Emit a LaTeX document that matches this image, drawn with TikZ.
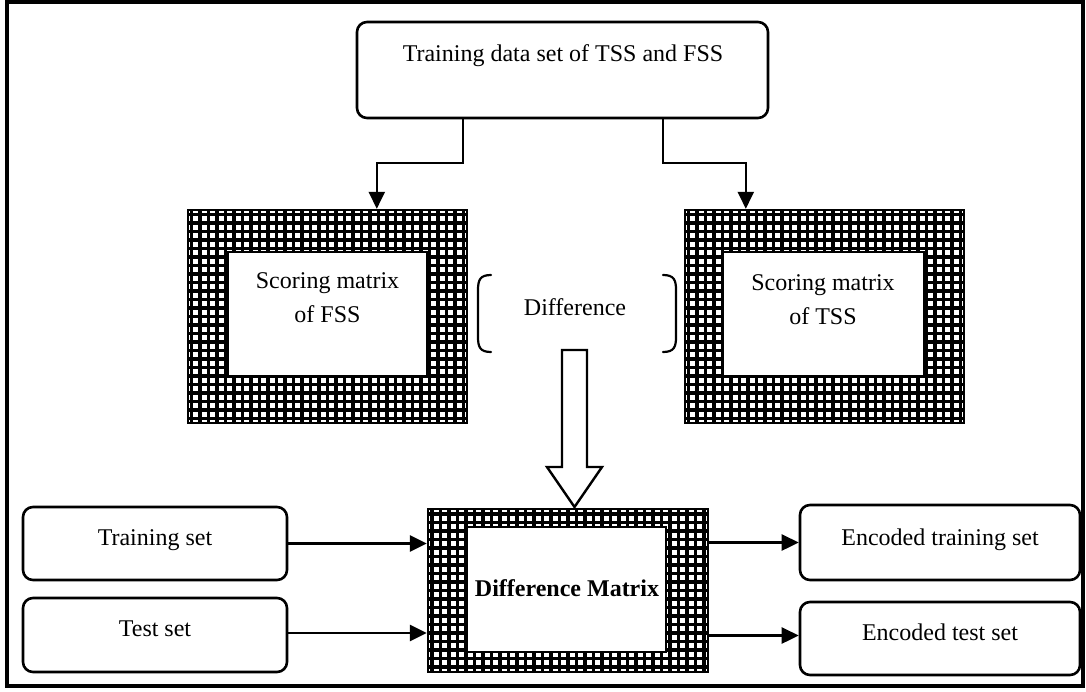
\documentclass[tikz,border=0pt]{standalone}
\usepackage{fontspec}
\setmainfont{Liberation Serif}
\usetikzlibrary{arrows.meta,calc}
\begin{document}
\begin{tikzpicture}[x=1pt,y=-1pt,
  rbox/.style={draw, line width=2.6pt, rounded corners=10pt, inner sep=0pt},
  lbl/.style={font=\fontsize{24}{34}\selectfont, align=center, inner sep=0pt},
  gridmat/.style={draw, line width=2.4pt, inner sep=0pt,
    path picture={\draw[line width=3.7pt]
      (path picture bounding box.south west) grid[step=8.5pt]
      (path picture bounding box.north east);}},
  innerbox/.style={draw, fill=white, line width=2.4pt, inner sep=0pt},
  arr/.style={line width=2.6pt, -{Triangle[length=17pt,width=16pt]}},
  brk/.style={line width=2.2pt, line cap=round},
  hollow/.style={draw, fill=white, line width=2.4pt, line join=miter}
]
\useasboundingbox (0,0) rectangle (1086,691);
\draw[line width=3.2pt] (7,2) rectangle (1083,686);

% top box
\node[rbox, minimum width=411pt, minimum height=96pt] (top) at (562.5,70) {};
\node[lbl] (toptxt) at (563,56) {Training data set of TSS and FSS};

% scoring matrices
\node[gridmat, minimum width=279pt, minimum height=213pt] (fssO) at (327.5,316.5) {};
\node[innerbox, minimum width=199pt, minimum height=124pt] (fss) at (327.5,314) {};
\node[lbl] (fsstxt) at (327.5,298) {Scoring matrix\\of FSS};

\node[gridmat, minimum width=279pt, minimum height=213pt] (tssO) at (824.5,316.5) {};
\node[innerbox, minimum width=201pt, minimum height=124pt] (tss) at (823.5,314) {};
\node[lbl] (tsstxt) at (823,300) {Scoring matrix\\of TSS};

% difference label with brackets
\node[lbl] (diff) at (575,307) {Difference};
\draw[brk] (491,275) .. controls (480,275) and (478,280) .. (478,290) -- (478,337)
  .. controls (478,347) and (480,352) .. (491,352);
\draw[brk] (663,275) .. controls (674,275) and (676,280) .. (676,290) -- (676,337)
  .. controls (676,347) and (674,352) .. (663,352);

% difference matrix
\node[gridmat, minimum width=280pt, minimum height=163pt] (dmO) at (568,590.5) {};
\node[innerbox, minimum width=199pt, minimum height=125pt] (dm) at (566.5,589.5) {};
\node[lbl, font=\fontsize{24}{34}\selectfont\bfseries] (dmtxt) at (567,588) {Difference Matrix};

% hollow arrow
\coordinate (tip) at (574.5,507);
\draw[hollow] (562,350) -- (587,350) -- (587,467) -- (602,467) -- (tip)
  -- (547,467) -- (562,467) -- cycle;

% left boxes
\node[rbox, minimum width=264pt, minimum height=73pt] (trn) at (155,543.5) {};
\node[lbl] (trntxt) at (155,540) {Training set};
\node[rbox, minimum width=264pt, minimum height=74pt] (tst) at (155,635) {};
\node[lbl] (tsttxt) at (155,629) {Test set};

% right boxes
\node[rbox, minimum width=280pt, minimum height=75pt] (etr) at (940,542.5) {};
\node[lbl] (etrtxt) at (940,540) {Encoded training set};
\node[rbox, minimum width=280pt, minimum height=73pt] (ets) at (940,638.5) {};
\node[lbl] (etstxt) at (940,632) {Encoded test set};

% connectors
\coordinate (l1) at (463,163);
\coordinate (r1) at (663,163);
\draw[arr] (top.south -| l1) -- (l1) -| ($(fssO.north west)+(190,0)$);
\draw[arr] (top.south -| r1) -- (r1) -| ($(tssO.north west)+(62,0)$);

\draw[arr] (trn.east) -- (trn.east -| dmO.west);
\draw[arr] ($(tst.east)+(0,-2)$) -- ($(tst.east -| dmO.west)+(0,-2)$);
\draw[arr] (dmO.east |- etr.west) -- (etr.west);
\draw[arr] ($(dmO.east |- ets.west)+(0,-3)$) -- ($(ets.west)+(0,-3)$);
\end{tikzpicture}
\end{document}
